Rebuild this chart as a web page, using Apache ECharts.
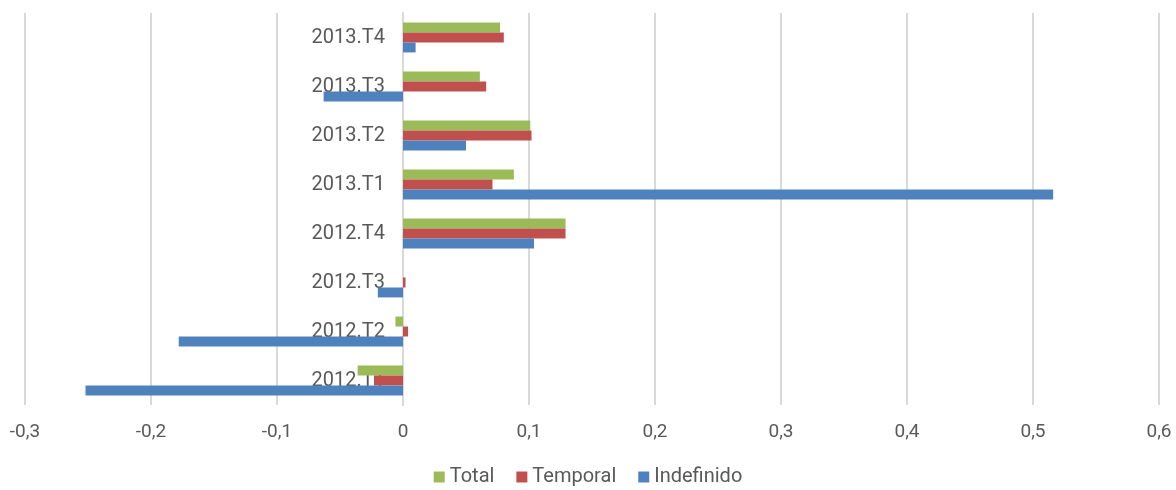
<!DOCTYPE html>
<html>
<head>
<meta charset="utf-8">
<script src="https://cdn.jsdelivr.net/npm/echarts@6/dist/echarts.min.js"></script>
<style>
html, body { margin: 0; padding: 0; background: #fff; }
#echart { width: 1176px; height: 490px; }
</style>
</head>
<body>
<div id="echart"></div>
<script>
var trimestres = ['2012.T1', '2012.T2', '2012.T3', '2012.T4', '2013.T1', '2013.T2', '2013.T3', '2013.T4'];
var total = [-0.036, -0.006, 0.000, 0.129, 0.088, 0.101, 0.061, 0.077];
var temporal = [-0.023, 0.004, 0.002, 0.129, 0.071, 0.102, 0.066, 0.080];
var indefinido = [-0.252, -0.178, -0.020, 0.104, 0.516, 0.050, -0.063, 0.010];

var myChart = echarts.init(document.getElementById('echart'));
var fuente = 'Roboto, "DejaVu Sans", sans-serif';

// formato con coma decimal
function fmt(v) {
	if (Math.abs(v) < 1e-9) return '0';
	return v.toFixed(1).replace('.', ',');
}

myChart.setOption({
	animation: false,
	textStyle: { fontFamily: fuente },
	grid: { left: 25, right: 17, top: 13, bottom: 85, containLabel: false, outerBoundsMode: 'none' },
	legend: {
		data: ['Total', 'Temporal', 'Indefinido'],
		bottom: -2,
		left: 'center',
		itemWidth: 11,
		itemHeight: 11,
		itemGap: 22,
		icon: 'rect',
		textStyle: { color: '#595959', fontSize: 20, fontFamily: fuente }
	},
	xAxis: {
		type: 'value',
		min: -0.3,
		max: 0.6,
		interval: 0.1,
		axisLine: { show: false },
		axisTick: { show: false },
		axisLabel: { color: '#595959', fontSize: 19, margin: 18, formatter: fmt },
		splitLine: { lineStyle: { color: '#d9d9d9', width: 2 } }
	},
	yAxis: {
		type: 'category',
		data: trimestres,
		z: 1,
		offset: -378,
		axisLine: { show: true, onZero: false, lineStyle: { color: '#d9d9d9', width: 2 } },
		axisTick: { show: false },
		axisLabel: { color: '#595959', fontSize: 20, margin: 18 }
	},
	series: [{
		name: 'Total',
		type: 'bar',
		data: total,
		itemStyle: { color: '#9bbb59' },
		barGap: '0%',
		barCategoryGap: '39%'
	}, {
		name: 'Temporal',
		type: 'bar',
		data: temporal,
		itemStyle: { color: '#c0504d' }
	}, {
		name: 'Indefinido',
		type: 'bar',
		data: indefinido,
		itemStyle: { color: '#4f81bd' }
	}]
});
</script>
</body>
</html>
